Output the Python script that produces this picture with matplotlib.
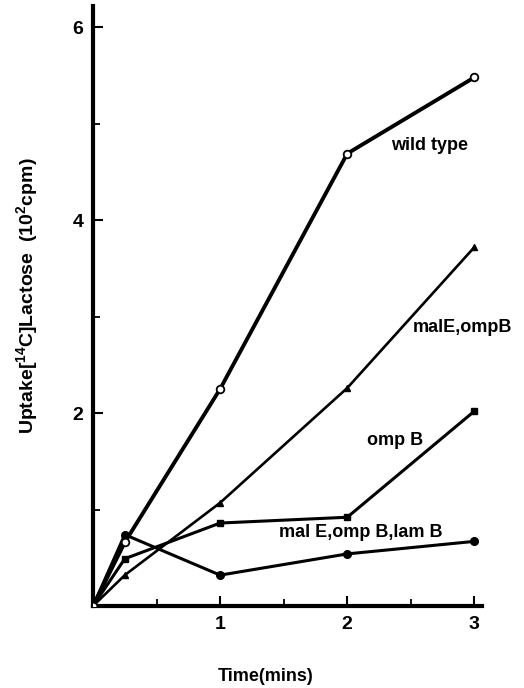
import matplotlib.pyplot as plt
from matplotlib.ticker import MultipleLocator

plt.rcParams['font.family'] = ['Liberation Sans', 'DejaVu Sans']
plt.rcParams['font.weight'] = 'bold'
plt.rcParams['axes.labelweight'] = 'bold'
plt.rcParams['mathtext.fontset'] = 'custom'
plt.rcParams['mathtext.rm'] = 'Liberation Sans:bold'
plt.rcParams['mathtext.default'] = 'rm'

# time points (mins)
time = [0, 0.25, 1, 2, 3]
# uptake, 10^2 cpm
wild_type = [0, 0.66, 2.25, 4.69, 5.48]
male_ompb = [0, 0.32, 1.07, 2.26, 3.72]
ompb = [0, 0.49, 0.86, 0.92, 2.02]
male_ompb_lamb = [0, 0.74, 0.32, 0.54, 0.67]

fig = plt.figure(figsize=(5.24, 6.88), dpi=100)
ax = fig.add_axes([93 / 524, 82 / 688, 389 / 524, 600 / 688])

ax.plot(time, wild_type, 'k-', lw=2.8, marker='o', ms=5.5, mfc='white', mew=1.3, zorder=4)
ax.plot(time, male_ompb, 'k-', lw=1.9, marker='^', ms=4.5, zorder=3)
ax.plot(time, ompb, 'k-', lw=2.2, marker='s', ms=4.5, zorder=3)
ax.plot(time, male_ompb_lamb, 'k-', lw=2.2, marker='o', ms=5.5, zorder=3)

ax.text(2.65, 4.77, 'wild type', ha='center', va='center', fontsize=13)
ax.text(2.91, 2.89, 'malE,ompB', ha='center', va='center', fontsize=13)
ax.text(2.38, 1.72, 'omp B', ha='center', va='center', fontsize=13)
ax.text(2.11, 0.76, 'mal E,omp B,lam B', ha='center', va='center', fontsize=13)

ax.set_xlim(0, 3.06)
ax.set_ylim(0, 6.22)
ax.xaxis.set_minor_locator(MultipleLocator(0.5))
ax.yaxis.set_minor_locator(MultipleLocator(1))
ax.set_xticks([1, 2, 3])
ax.set_yticks([2, 4, 6])

for s in ['top', 'right']:
    ax.spines[s].set_visible(False)
for s in ['left', 'bottom']:
    ax.spines[s].set_linewidth(3.0)

ax.tick_params(which='major', direction='in', length=7, width=1.5, labelsize=14, pad=7)
ax.tick_params(which='minor', direction='in', length=5, width=1.3)

ax.set_xlabel('Time(mins)', fontsize=13)
ax.set_ylabel('Uptake[$^{14}$C]Lactose  (10$^{2}$cpm)', fontsize=14)
ax.xaxis.set_label_coords(0.445, -0.103)
ax.yaxis.set_label_coords(-0.135, 0.517)

fig.savefig('out.png', dpi=100)
